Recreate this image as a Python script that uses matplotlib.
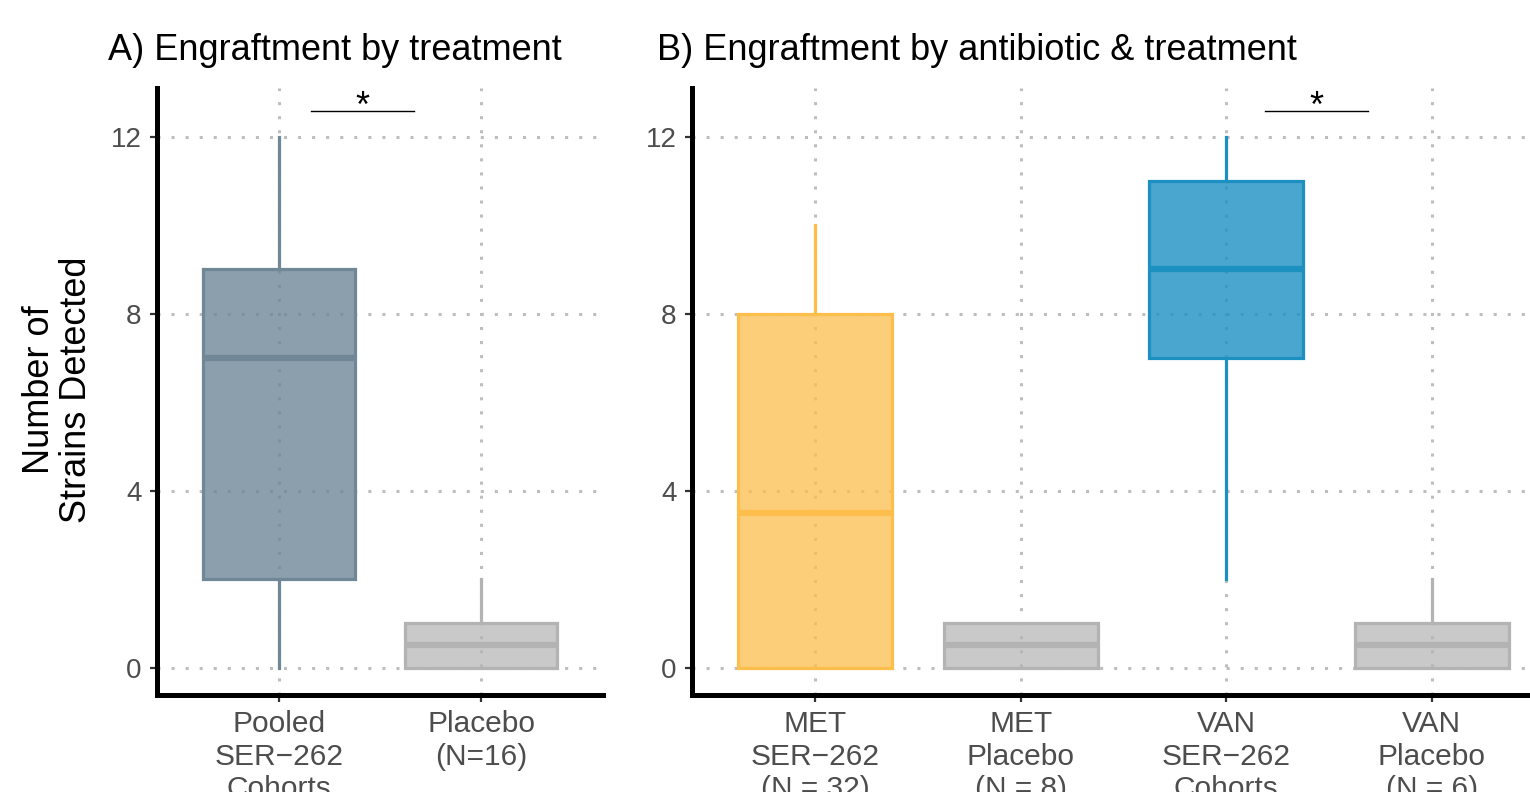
import matplotlib
matplotlib.use("Agg")
import matplotlib.pyplot as plt

plt.rcParams['font.family'] = ['Liberation Sans', 'DejaVu Sans']

# panel A: pooled vs placebo
a_labels = ["Pooled\nSER\u2212262\nCohorts", "Placebo\n(N=16)"]
a_low = [0, 0]
a_q1 = [2, 0]
a_med = [7, 0.5]
a_q3 = [9, 1]
a_high = [12, 2]
a_colors = ["#6F8797", "#B3B3B3"]
a_alpha = [0.8, 0.7]

# panel B: by antibiotic
b_labels = ["MET\nSER\u2212262\n(N = 32)", "MET\nPlacebo\n(N = 8)",
            "VAN\nSER\u2212262\nCohorts", "VAN\nPlacebo\n(N = 6)"]
b_low = [0, 0, 2, 0]
b_q1 = [0, 0, 7, 0]
b_med = [3.5, 0.5, 9, 0.5]
b_q3 = [8, 1, 11, 1]
b_high = [10, 1, 12, 2]
b_colors = ["#FDBE4C", "#B3B3B3", "#1D90C2", "#B3B3B3"]
b_alpha = [0.75, 0.7, 0.8, 0.7]

yticks = [0, 4, 8, 12]


def draw_panel(ax, labels, low, q1, med, q3, high, colors, alphas, sig):
    pos = list(range(1, len(labels) + 1))
    ax.grid(True, color="#BEBEBE", linestyle=(0, (1, 3.6)), linewidth=2.2)
    ax.set_axisbelow(True)
    for i in range(len(labels)):
        s = dict(whislo=low[i], q1=q1[i], med=med[i], q3=q3[i],
                 whishi=high[i], fliers=[], label=labels[i])
        c = colors[i]
        ax.bxp([s], positions=[pos[i]], widths=0.75, patch_artist=True,
               showcaps=False, showfliers=False,
               boxprops=dict(facecolor=matplotlib.colors.to_rgba(c, alphas[i]),
                             edgecolor=c, linewidth=2.3),
               whiskerprops=dict(color=c, linewidth=2.3),
               medianprops=dict(color=c, linewidth=4.5, solid_capstyle="butt"))
    ax.set_xlim(0.4, len(labels) + 0.6)
    ax.set_ylim(-0.62, 13.1)
    ax.set_yticks(yticks)
    ax.set_xticks(pos)
    ax.set_xticklabels(labels, linespacing=1.2, fontsize=21.5)
    ax.tick_params(axis="both", colors="#333333", labelcolor="#4D4D4D",
                   length=5, width=1.6)
    ax.tick_params(axis="x", pad=6)
    ax.tick_params(axis="y", pad=6, labelsize=20)
    for side in ["top", "right"]:
        ax.spines[side].set_visible(False)
    for side in ["left", "bottom"]:
        ax.spines[side].set_linewidth(3.6)
        ax.spines[side].set_color("black")
    x0, x1, y = sig
    ax.plot([x0, x1], [y, y], color="black", linewidth=1.0, clip_on=False)
    ax.text((x0 + x1) / 2, y - 0.15, "*", ha="center", va="baseline",
            fontsize=26, clip_on=False)


fig = plt.figure(figsize=(15.3, 7.92), dpi=100)
ax_a = fig.add_axes([157 / 1530, 97 / 792, 446 / 1530, 607 / 792])
ax_b = fig.add_axes([692 / 1530, 97 / 792, 863 / 1530, 607 / 792])

draw_panel(ax_a, a_labels, a_low, a_q1, a_med, a_q3, a_high, a_colors, a_alpha,
           (1.16, 1.67, 12.59))
draw_panel(ax_b, b_labels, b_low, b_q1, b_med, b_q3, b_high, b_colors, b_alpha,
           (3.19, 3.69, 12.59))

fig.text(58 / 1530, 1 - 390 / 792, "Number of\nStrains Detected", fontsize=26,
         rotation=90, ha="center", va="center", multialignment="center",
         linespacing=1.1)

fig.text(108 / 1530, 1 - 50 / 792, "A) Engraftment by treatment",
         fontsize=26, ha="left", va="center")
fig.text(657 / 1530, 1 - 50 / 792, "B) Engraftment by antibiotic & treatment",
         fontsize=26, ha="left", va="center")

fig.savefig("out.png", dpi=100)
